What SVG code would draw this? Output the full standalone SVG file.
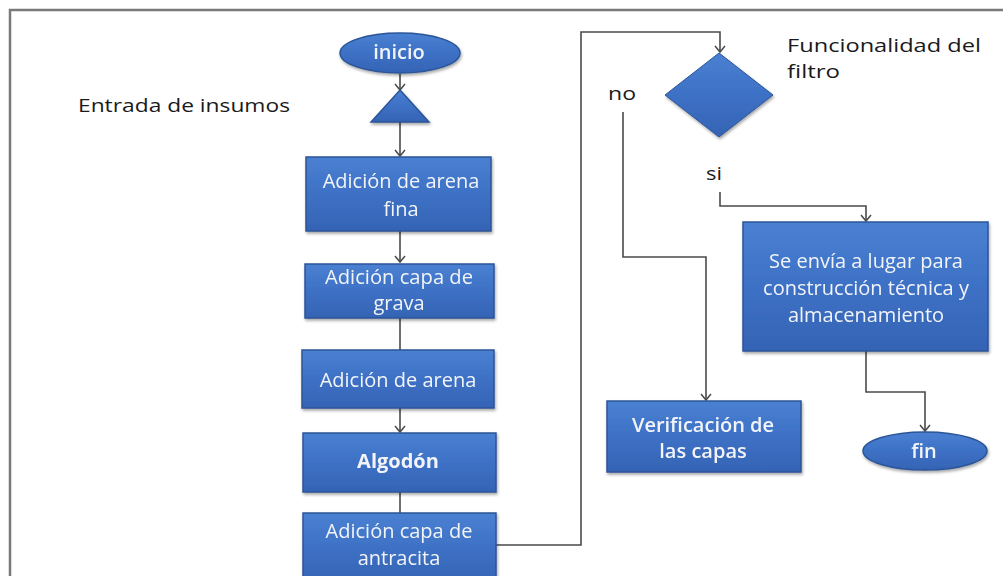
<svg xmlns="http://www.w3.org/2000/svg" width="1003" height="576" viewBox="0 0 1003 576">
<style>
.box{fill:url(#g);stroke:#2b5597;stroke-width:1.5}
.lbl{font-family:"Open Sans","DejaVu Sans",sans-serif;font-size:19px;fill:#1a1a1a}
.bt{font-family:"Open Sans","DejaVu Sans",sans-serif;font-size:20px;fill:#f2f4f8;text-anchor:middle}
.b{font-weight:bold}
.sb{font-weight:600}
.c{fill:none;stroke:#4a4a4a;stroke-width:1.6}
.frame{fill:none;stroke:#7a7a7a;stroke-width:2.5}
</style>
<defs>
<linearGradient id="g" x1="0" y1="0" x2="0" y2="1">
<stop offset="0" stop-color="#4a80d2"/>
<stop offset="0.5" stop-color="#3d71c5"/>
<stop offset="1" stop-color="#3563b4"/>
</linearGradient>
<filter id="sh" x="-10%" y="-10%" width="120%" height="130%">
<feDropShadow dx="1" dy="2" stdDeviation="1.5" flood-color="#000" flood-opacity="0.35"/>
</filter>
<marker id="arr" markerWidth="12" markerHeight="12" refX="10" refY="6" orient="auto" markerUnits="userSpaceOnUse" viewBox="0 0 12 12">
<polyline points="4,1 10,6 4,11" fill="none" stroke="#4a4a4a" stroke-width="1.5"/>
</marker>
</defs>
<rect width="1003" height="576" fill="#ffffff"/>
<path class="frame" d="M10,576 V10 H1003"/>

<g id="connectors">
<line class="c" x1="400" y1="74" x2="400" y2="90" marker-end="url(#arr)"/>
<line class="c" x1="400" y1="122" x2="400" y2="156" marker-end="url(#arr)"/>
<line class="c" x1="400" y1="231" x2="400" y2="262" marker-end="url(#arr)"/>
<line class="c" x1="400" y1="318" x2="400" y2="350"/>
<line class="c" x1="400" y1="408" x2="400" y2="432" marker-end="url(#arr)"/>
<line class="c" x1="400" y1="492" x2="400" y2="513"/>
<polyline class="c" points="496,545 581,545 581,32 720,32 720,52" marker-end="url(#arr)"/>
<polyline class="c" points="623,112 623,257 706,257 706,400" marker-end="url(#arr)"/>
<polyline class="c" points="720,192 720,206 866,206 866,221" marker-end="url(#arr)"/>
<polyline class="c" points="866,351 866,392 925,392 925,431" marker-end="url(#arr)"/>
</g>

<g id="inicio" filter="url(#sh)">
<ellipse cx="400" cy="53" rx="60" ry="20" fill="url(#g)" stroke="#2b5597" stroke-width="1.5"/>
<text class="bt sb" x="399" y="59">inicio</text>
</g>
<g id="entrada" filter="url(#sh)">
<polygon points="400,90 429,122 371,122" fill="url(#g)" stroke="#2b5597" stroke-width="1.5"/>
</g>
<g id="box1" filter="url(#sh)">
<rect class="box" x="306" y="157" width="185" height="74"/>
<text class="bt" x="401" y="188">Adición de arena</text>
<text class="bt" x="401" y="216">fina</text>
</g>
<g id="box2" filter="url(#sh)">
<rect class="box" x="305" y="264" width="189" height="54"/>
<text class="bt" x="399" y="284" font-size="19" textLength="148" lengthAdjust="spacingAndGlyphs">Adición capa de</text>
<text class="bt" x="399" y="310" font-size="19">grava</text>
</g>
<g id="box3" filter="url(#sh)">
<rect class="box" x="302" y="350" width="192" height="58"/>
<text class="bt" x="398" y="387">Adición de arena</text>
</g>
<g id="box4" filter="url(#sh)">
<rect class="box" x="303" y="433" width="193" height="59"/>
<text class="bt b" x="398" y="468">Algodón</text>
</g>
<g id="box5" filter="url(#sh)">
<rect class="box" x="303" y="513" width="193" height="70"/>
<text class="bt" x="399" y="538">Adición capa de</text>
<text class="bt" x="399" y="565">antracita</text>
</g>
<g id="decision" filter="url(#sh)">
<polygon points="719,53 773,95 719,137 665,95" fill="url(#g)" stroke="#2b5597" stroke-width="1"/>
</g>
<g id="envio" filter="url(#sh)">
<rect class="box" x="743" y="222" width="245" height="129"/>
<text class="bt" x="866" y="268">Se envía a lugar para</text>
<text class="bt" x="866" y="295">construcción técnica y</text>
<text class="bt" x="866" y="322">almacenamiento</text>
</g>
<g id="verificacion" filter="url(#sh)">
<rect class="box" x="607" y="401" width="194" height="71"/>
<text class="bt sb" x="703" y="432">Verificación de</text>
<text class="bt sb" x="703" y="458">las capas</text>
</g>
<g id="fin" filter="url(#sh)">
<ellipse cx="925" cy="451" rx="62" ry="19" fill="url(#g)" stroke="#2b5597" stroke-width="1.5"/>
<text class="bt sb" x="924" y="458">fin</text>
</g>
<g id="labels">
<text class="lbl" x="78" y="112" textLength="212" lengthAdjust="spacingAndGlyphs">Entrada de insumos</text>
<text class="lbl" x="787" y="52" textLength="194" lengthAdjust="spacingAndGlyphs">Funcionalidad del</text>
<text class="lbl" x="787" y="78" textLength="53" lengthAdjust="spacingAndGlyphs">filtro</text>
<text class="lbl" x="608" y="100" textLength="28" lengthAdjust="spacingAndGlyphs">no</text>
<text class="lbl" x="706" y="180" textLength="16" lengthAdjust="spacingAndGlyphs">si</text>
</g>
</svg>
